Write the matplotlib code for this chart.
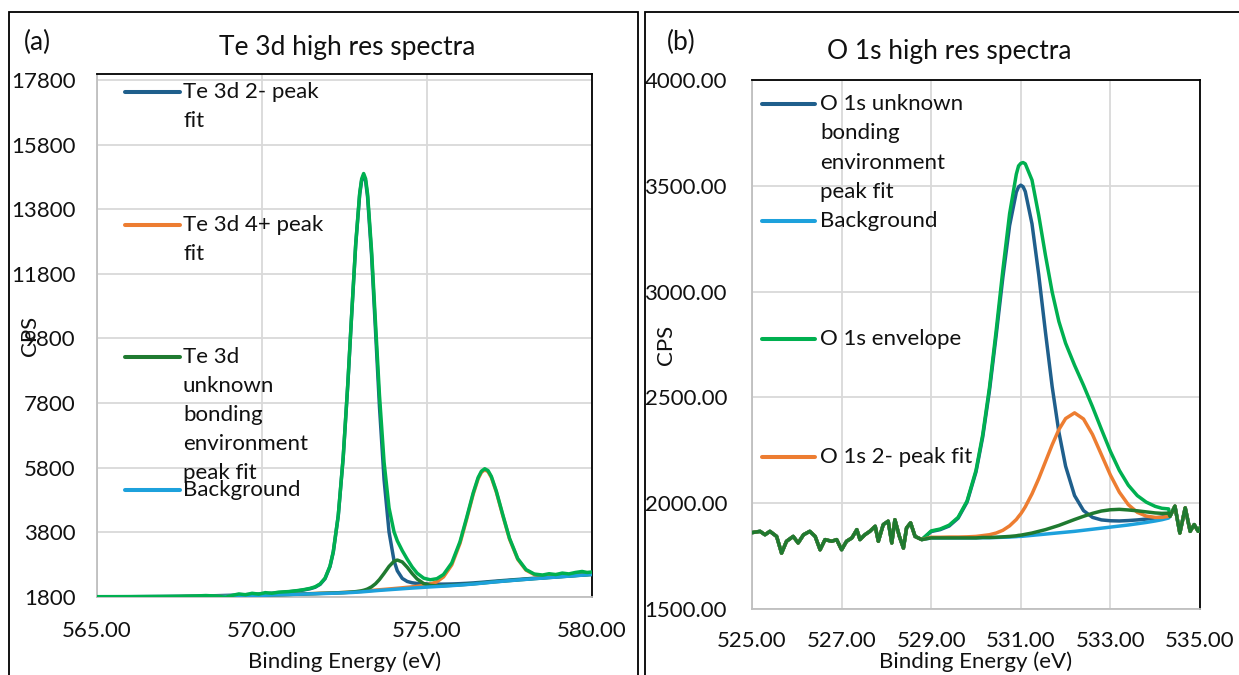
import matplotlib
matplotlib.use("Agg")
import matplotlib.pyplot as plt
from matplotlib.patches import Rectangle
from matplotlib.ticker import FixedLocator, FormatStrFormatter

plt.rcParams['font.family'] = ['Lato', 'DejaVu Sans']

# ---------------- Te 3d region ----------------
te_be = [565.0, 566.0, 567.0, 567.5, 568.0, 568.3, 568.6, 568.9, 569.1, 569.3,
         569.5, 569.7, 569.9, 570.1, 570.3, 570.5, 570.8, 571.06, 571.26, 571.46,
         571.61, 571.76, 571.91, 572.06, 572.16, 572.31, 572.46, 572.6, 572.72, 572.84,
         572.96, 573.02, 573.08, 573.14, 573.2, 573.32, 573.44, 573.56, 573.7, 573.85,
         574.0, 574.1, 574.25, 574.4, 574.55, 574.7, 574.9, 575.1, 575.3, 575.5,
         575.75, 576.0, 576.2, 576.4, 576.55, 576.65, 576.75, 576.85, 576.95, 577.1,
         577.3, 577.5, 577.75, 578.0, 578.25, 578.5, 578.7, 578.9, 579.1, 579.3,
         579.5, 579.7, 579.85, 580.0]

te_background = [1800, 1800, 1804, 1807, 1811, 1814, 1818, 1823, 1827, 1832,
                 1837, 1843, 1849, 1855, 1861, 1867, 1876, 1884, 1890, 1896,
                 1900, 1905, 1909, 1914, 1917, 1922, 1928, 1934, 1940, 1947,
                 1955, 1959, 1964, 1969, 1974, 1985, 1995, 2005, 2015, 2026,
                 2037, 2044, 2055, 2066, 2076, 2086, 2099, 2112, 2124, 2136,
                 2152, 2170, 2185, 2202, 2216, 2226, 2236, 2246, 2256, 2270,
                 2288, 2305, 2326, 2346, 2366, 2385, 2400, 2415, 2430, 2445,
                 2460, 2475, 2486, 2497]

te_2minus = [1807, 1809, 1816, 1821, 1828, 1834, 1840, 1849, 1855, 1863,
             1872, 1882, 1893, 1904, 1917, 1932, 1959, 1987, 2016, 2056,
             2102, 2190, 2366, 2739, 3187, 4302, 6103, 8374, 10580, 12702,
             14255, 14689, 14844, 14669, 14174, 12375, 10040, 7685, 5425, 3811,
             2926, 2612, 2375, 2281, 2240, 2219, 2206, 2199, 2197, 2198,
             2203, 2213, 2223, 2236, 2247, 2255, 2264, 2272, 2281, 2293,
             2309, 2324, 2343, 2361, 2380, 2398, 2412, 2426, 2440, 2455,
             2469, 2484, 2494, 2505]

te_4plus = [1802, 1802, 1806, 1809, 1814, 1817, 1821, 1826, 1830, 1836,
            1841, 1847, 1853, 1859, 1866, 1872, 1881, 1890, 1897, 1903,
            1908, 1913, 1918, 1923, 1927, 1932, 1939, 1946, 1953, 1961,
            1969, 1974, 1979, 1985, 1990, 2002, 2013, 2024, 2036, 2049,
            2062, 2071, 2085, 2100, 2115, 2132, 2159, 2199, 2272, 2421,
            2792, 3460, 4205, 4982, 5461, 5660, 5736, 5680, 5501, 5050,
            4308, 3595, 2966, 2631, 2494, 2455, 2451, 2456, 2464, 2474,
            2486, 2497, 2506, 2516]

te_unknown = [1801, 1801, 1805, 1808, 1812, 1816, 1820, 1825, 1829, 1834,
              1839, 1845, 1851, 1857, 1864, 1870, 1879, 1888, 1894, 1901,
              1905, 1911, 1915, 1921, 1925, 1931, 1938, 1945, 1954, 1966,
              1982, 1994, 2008, 2027, 2049, 2115, 2210, 2342, 2532, 2747,
              2905, 2944, 2885, 2721, 2526, 2358, 2216, 2159, 2146, 2149,
              2162, 2178, 2192, 2208, 2222, 2231, 2241, 2251, 2261, 2275,
              2292, 2309, 2330, 2349, 2369, 2388, 2403, 2418, 2432, 2447,
              2462, 2477, 2488, 2499]

te_envelope = [1810, 1812, 1819, 1824, 1832, 1845, 1830, 1790, 1850, 1895,
               1870, 1915, 1890, 1935, 1915, 1950, 1967, 1997, 2027, 2068,
               2115, 2204, 2381, 2755, 3205, 4321, 6124, 8398, 10608, 12736,
               14298, 14739, 14905, 14743, 14265, 12522, 10273, 8041, 5963, 4555,
               3819, 3539, 3235, 2970, 2729, 2537, 2383, 2333, 2367, 2496,
               2853, 3511, 4250, 5022, 5498, 5694, 5769, 5712, 5531, 5078,
               4333, 3618, 2987, 2649, 2511, 2480, 2520, 2495, 2540, 2515,
               2560, 2590, 2560, 2575]

te_xticks = [565, 570, 575, 580]
te_yticks = [1800, 3800, 5800, 7800, 9800, 11800, 13800, 15800, 17800]

# ---------------- O 1s region ----------------
o_raw_left_be = [525.0, 525.18, 525.29, 525.40, 525.55, 525.66, 525.77, 525.92, 526.03, 526.15,
                 526.29, 526.41, 526.52, 526.63, 526.78, 526.89, 527.0, 527.11, 527.23, 527.34,
                 527.41, 527.52, 527.63, 527.75, 527.82, 527.93, 528.04, 528.12, 528.19, 528.29,
                 528.38, 528.45, 528.54, 528.64, 528.79]
o_raw_left_cps = [1861, 1867, 1851, 1867, 1843, 1764, 1820, 1843, 1812, 1851,
                  1867, 1843, 1780, 1828, 1820, 1828, 1780, 1820, 1836, 1875,
                  1828, 1851, 1867, 1891, 1820, 1899, 1915, 1812, 1922, 1843,
                  1788, 1883, 1907, 1843, 1828]

o_fit_be = [529.0, 529.2, 529.4, 529.6, 529.8, 530.0, 530.15, 530.3, 530.45, 530.6,
            530.75, 530.9, 530.95, 531.0, 531.05, 531.1, 531.25, 531.4, 531.55, 531.7,
            531.85, 532.0, 532.2, 532.4, 532.6, 532.8, 533.0, 533.2, 533.4, 533.6,
            533.8, 534.0, 534.15, 534.3]
o_background = [1836, 1836, 1836, 1836, 1836, 1836, 1837, 1837, 1838, 1839,
                1840, 1842, 1843, 1843, 1844, 1845, 1848, 1851, 1854, 1857,
                1860, 1863, 1867, 1872, 1877, 1882, 1887, 1892, 1897, 1903,
                1909, 1916, 1922, 1930]
o_unknown = [1866, 1875, 1892, 1929, 2005, 2148, 2313, 2531, 2793, 3068,
             3312, 3470, 3495, 3503, 3496, 3473, 3320, 3080, 2809, 2551,
             2336, 2175, 2036, 1965, 1933, 1921, 1917, 1916, 1918, 1921,
             1925, 1930, 1935, 1942]
o_2minus = [1839, 1839, 1840, 1840, 1841, 1843, 1847, 1851, 1859, 1872,
            1893, 1923, 1937, 1950, 1966, 1983, 2044, 2116, 2196, 2276,
            2348, 2400, 2427, 2398, 2325, 2229, 2133, 2052, 1993, 1957,
            1939, 1933, 1933, 1938]
o_third = [1836, 1836, 1836, 1836, 1836, 1836, 1838, 1838, 1839, 1841,
           1843, 1846, 1848, 1849, 1851, 1853, 1859, 1867, 1875, 1885,
           1895, 1907, 1923, 1938, 1952, 1963, 1969, 1971, 1968, 1964,
           1959, 1954, 1952, 1953]
o_envelope = [1869, 1878, 1896, 1933, 2010, 2155, 2324, 2546, 2815, 3103,
              3368, 3555, 3594, 3606, 3610, 3604, 3527, 3361, 3172, 2998,
              2859, 2756, 2652, 2557, 2456, 2349, 2245, 2155, 2085, 2036,
              2005, 1985, 1976, 1973]

o_raw_right_be = [534.33, 534.44, 534.55, 534.67, 534.78, 534.87, 534.96, 535.0]
o_raw_right_cps = [1938, 1986, 1859, 1978, 1867, 1899, 1867, 1883]

o_xticks = [525, 527, 529, 531, 533, 535]
o_yticks = [1500, 2000, 2500, 3000, 3500, 4000]

# ---------------- styling ----------------
C_DKBLUE = '#1F5F8C'
C_ORANGE = '#ED7D31'
C_DKGREEN = '#1F7A30'
C_LTBLUE = '#1DA1DC'
C_GREEN = '#00B050'
C_TEXT = '#111111'
C_GRID = '#D9D9D9'
LW = 2.5
FS = 16          # ticks, legend, axis titles
FS_TITLE = 19

W, H = 1239, 675
fig = plt.figure(figsize=(W / 100, H / 100), dpi=100)
fig.patch.set_facecolor('white')


def px_rect(x0, y0, x1, y1):
    return [x0 / W, 1 - y1 / H, (x1 - x0) / W, (y1 - y0) / H]


def style_axes(ax):
    ax.set_facecolor('white')
    ax.grid(True, color=C_GRID, linewidth=1.3, zorder=0)
    ax.set_axisbelow(True)
    for side in ('top', 'right'):
        ax.spines[side].set_color('black')
        ax.spines[side].set_linewidth(1.3)
    for side in ('left', 'bottom'):
        ax.spines[side].set_color('#BFBFBF')
        ax.spines[side].set_linewidth(1.3)
    ax.tick_params(length=0, labelsize=FS, colors=C_TEXT)


def draw_legend(ax, entries, x0, x1, xt, ys, dy):
    for (label, color), y in zip(entries, ys):
        ax.plot([x0, x1], [y, y], color=color, lw=LW + 0.4, transform=ax.transAxes,
                clip_on=False, solid_capstyle='round', zorder=6)
        for k, line in enumerate(label.split('\n')):
            ax.text(xt, y - k * dy, line, transform=ax.transAxes, ha='left',
                    va='center', fontsize=FS, color=C_TEXT, zorder=7)


# Panel frames
fig.add_artist(Rectangle((9 / W, -0.05), (638 - 9) / W, 1.05 - 12 / H,
                         transform=fig.transFigure, fill=False, ec='black', lw=1.3))
fig.add_artist(Rectangle((645 / W, -0.05), 1.1 - 645 / W, 1.05 - 12 / H,
                         transform=fig.transFigure, fill=False, ec='black', lw=1.3))

# ---- (a) Te 3d ----
ax1 = fig.add_axes(px_rect(97, 74, 592, 597))
style_axes(ax1)
ax1.plot(te_be, te_2minus, color=C_DKBLUE, lw=LW, zorder=3)
ax1.plot(te_be, te_4plus, color=C_ORANGE, lw=LW, zorder=3)
ax1.plot(te_be, te_unknown, color=C_DKGREEN, lw=LW, zorder=3)
ax1.plot(te_be, te_background, color=C_LTBLUE, lw=LW, zorder=4)
ax1.plot(te_be, te_envelope, color=C_GREEN, lw=LW, zorder=5)
ax1.set_xlim(565, 580)
ax1.set_ylim(1800, 17800 + 6 * 2000 / 64.7)
ax1.xaxis.set_major_locator(FixedLocator(te_xticks))
ax1.yaxis.set_major_locator(FixedLocator(te_yticks))
ax1.xaxis.set_major_formatter(FormatStrFormatter('%.2f'))
ax1.yaxis.set_major_formatter(FormatStrFormatter('%d'))
ax1.tick_params(axis='y', pad=15.5)
ax1.tick_params(axis='x', pad=17)
ax1.set_xlabel('Binding Energy (eV)', fontsize=FS, color=C_TEXT)
ax1.set_ylabel('CPS', fontsize=FS, color=C_TEXT)
ax1.xaxis.set_label_coords(0.5, (597 - 662) / 523)
ax1.xaxis.label.set_va('center')
ax1.yaxis.set_label_coords((30 - 97) / 495, 0.5)
ax1.yaxis.label.set_va('center')
ax1.set_title('Te 3d high res spectra', fontsize=FS_TITLE, color=C_TEXT,
              x=(347 - 97) / 495, y=(597 - 47) / 523, va='center', pad=0)
fig.text(37 / W, 1 - 42 / H, '(a)', fontsize=FS_TITLE, color=C_TEXT, ha='center', va='center')

draw_legend(ax1,
            [('Te 3d 2- peak\nfit', C_DKBLUE),
             ('Te 3d 4+ peak\nfit', C_ORANGE),
             ('Te 3d\nunknown\nbonding\nenvironment\npeak fit', C_DKGREEN),
             ('Background', C_LTBLUE)],
            (125 - 97) / 495, (180 - 97) / 495, (183 - 97) / 495,
            [(597 - y) / 523 for y in (92, 225, 357, 490)], 29 / 523)

# ---- (b) O 1s ----
o_be = o_raw_left_be + o_fit_be + o_raw_right_be


def o_series(fit_vals):
    return o_raw_left_cps + fit_vals + o_raw_right_cps


ax2 = fig.add_axes(px_rect(752, 80, 1200, 609))
style_axes(ax2)
ax2.plot(o_be, o_series(o_unknown), color=C_DKBLUE, lw=LW, zorder=3)
ax2.plot(o_be, o_series(o_background), color=C_LTBLUE, lw=LW, zorder=3)
ax2.plot(o_be, o_series(o_envelope), color=C_GREEN, lw=LW, zorder=4)
ax2.plot(o_be, o_series(o_2minus), color=C_ORANGE, lw=LW, zorder=4)
ax2.plot(o_be, o_series(o_third), color=C_DKGREEN, lw=LW, zorder=5)
ax2.set_xlim(525, 535)
ax2.set_ylim(1500, 4000)
ax2.xaxis.set_major_locator(FixedLocator(o_xticks))
ax2.yaxis.set_major_locator(FixedLocator(o_yticks))
ax2.xaxis.set_major_formatter(FormatStrFormatter('%.2f'))
ax2.yaxis.set_major_formatter(FormatStrFormatter('%.2f'))
ax2.tick_params(axis='y', pad=18)
ax2.tick_params(axis='x', pad=16)
ax2.set_xlabel('Binding Energy (eV)', fontsize=FS, color=C_TEXT)
ax2.set_ylabel('CPS', fontsize=FS, color=C_TEXT)
ax2.xaxis.set_label_coords(0.5, (609 - 662) / 529)
ax2.xaxis.label.set_va('center')
ax2.yaxis.set_label_coords((666 - 752) / 448, 0.5)
ax2.yaxis.label.set_va('center')
ax2.set_title('O 1s high res spectra', fontsize=FS_TITLE, color=C_TEXT,
              x=(949 - 752) / 448, y=(609 - 52) / 529, va='center', pad=0)
fig.text(681 / W, 1 - 42 / H, '(b)', fontsize=FS_TITLE, color=C_TEXT, ha='center', va='center')

draw_legend(ax2,
            [('O 1s unknown\nbonding\nenvironment\npeak fit', C_DKBLUE),
             ('Background', C_LTBLUE),
             ('O 1s envelope', C_GREEN),
             ('O 1s 2- peak fit', C_ORANGE)],
            (762 - 752) / 448, (815 - 752) / 448, (820 - 752) / 448,
            [(609 - y) / 529 for y in (104, 221, 339, 457)], 29.3 / 529)

fig.savefig('out.png', dpi=100, facecolor='white')
